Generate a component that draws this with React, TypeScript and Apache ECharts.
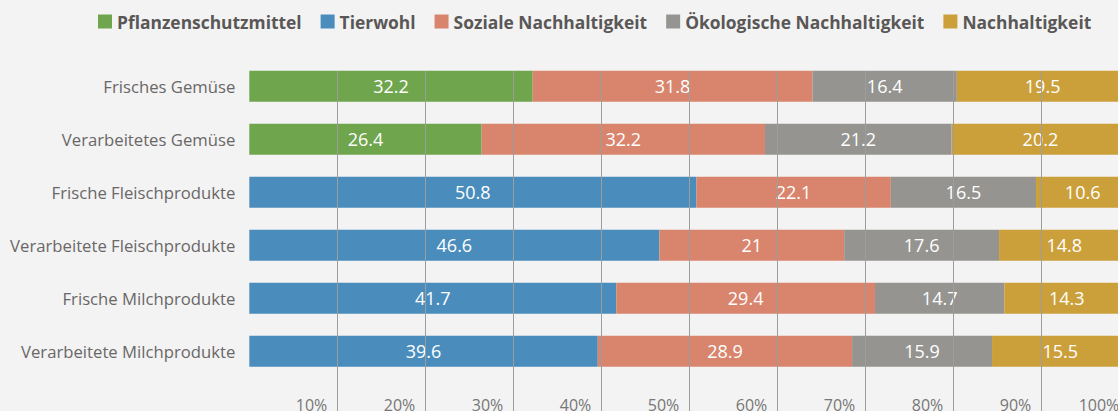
import React, { useEffect, useRef } from "react";
import * as echarts from "echarts";

const categories = [
  "Frisches Gemüse",
  "Verarbeitetes Gemüse",
  "Frische Fleischprodukte",
  "Verarbeitete Fleischprodukte",
  "Frische Milchprodukte",
  "Verarbeitete Milchprodukte",
];
const seriesNames = [
  "Pflanzenschutzmittel",
  "Tierwohl",
  "Soziale Nachhaltigkeit",
  "Ökologische Nachhaltigkeit",
  "Nachhaltigkeit",
];
const pflanzenschutz = [32.2, 26.4, null, null, null, null];
const tierwohl = [null, null, 50.8, 46.6, 41.7, 39.6];
const sozial = [31.8, 32.2, 22.1, 21, 29.4, 28.9];
const oekologisch = [16.4, 21.2, 16.5, 17.6, 14.7, 15.9];
const nachhaltigkeit = [19.5, 20.2, 10.6, 14.8, 14.3, 15.5];
const colors = ["#6fa54d", "#4a8dbd", "#d9856e", "#959491", "#cba03b"];
const tickValues = [10, 20, 30, 40, 50, 60, 70, 80, 90, 100];

const FONT = "'Open Sans', sans-serif";

export default function App() {
  const ref = useRef<HTMLDivElement>(null);
  useEffect(() => {
    document.body.style.margin = "0";
    document.body.style.background = "#f3f3f3";
    const chart = echarts.init(ref.current!, null, { renderer: "svg" });
    const values = [pflanzenschutz, tierwohl, sozial, oekologisch, nachhaltigkeit];
    chart.setOption({
      animation: false,
      backgroundColor: "#f3f3f3",
      textStyle: { fontFamily: FONT },
      legend: {
        left: 98,
        top: 13,
        itemWidth: 14,
        itemHeight: 14,
        itemGap: 19,
        icon: "rect",
        padding: 0,
        data: seriesNames,
        textStyle: { fontFamily: FONT, fontSize: 17.4, fontWeight: "bold", color: "#5a5757" },
      },
      grid: [
        { left: 249.3, width: 880, top: 59.8, height: 318, outerBoundsMode: "none", containLabel: false },
        { left: 249.3, width: 880, top: 71, bottom: 0, outerBoundsMode: "none", containLabel: false },
      ],
      xAxis: [
        {
          gridIndex: 0,
          type: "value",
          min: 0,
          max: 100,
          interval: 10,
          axisLine: { show: false },
          axisTick: { show: false },
          axisLabel: { show: false },
          splitLine: { show: false },
        },
        {
          gridIndex: 1,
          type: "value",
          min: 0,
          max: 100,
          interval: 10,
          z: 10,
          axisLine: { show: false },
          axisTick: { show: false },
          splitLine: {
            show: true,
            lineStyle: { color: "#9d9d9d", width: 1 },
            showMinLine: false,
          },
          axisLabel: {
            show: true,
            inside: true,
            margin: 6,
            verticalAlign: "middle",
            align: "right",
            padding: [0, 10, 0, 0],
            fontFamily: FONT,
            fontSize: 16,
            color: "#777777",
            showMinLabel: false,
            hideOverlap: false,
            formatter: (v: number) => (tickValues.includes(v) ? v + "%" : ""),
          },
        },
      ],
      yAxis: [
        {
          gridIndex: 0,
          type: "category",
          data: categories,
          inverse: true,
          axisLine: { show: false },
          axisTick: { show: false },
          axisLabel: { margin: 14, fontFamily: FONT, fontSize: 16.7, color: "#6a6767" },
        },
        {
          gridIndex: 1,
          type: "value",
          show: false,
        },
      ],
      series: seriesNames.map((name, i) => ({
        name,
        type: "bar",
        stack: "total",
        xAxisIndex: 0,
        yAxisIndex: 0,
        barWidth: 31,
        itemStyle: { color: colors[i] },
        label: {
          show: true,
          position: "inside",
          color: "#ffffff",
          fontFamily: FONT,
          fontSize: 18,
          formatter: (p: any) => (p.value == null ? "" : String(p.value)),
        },
        data: values[i],
      })),
    });
    return () => chart.dispose();
  }, []);
  return <div ref={ref} style={{ width: 1118, height: 411 }} />;
}
